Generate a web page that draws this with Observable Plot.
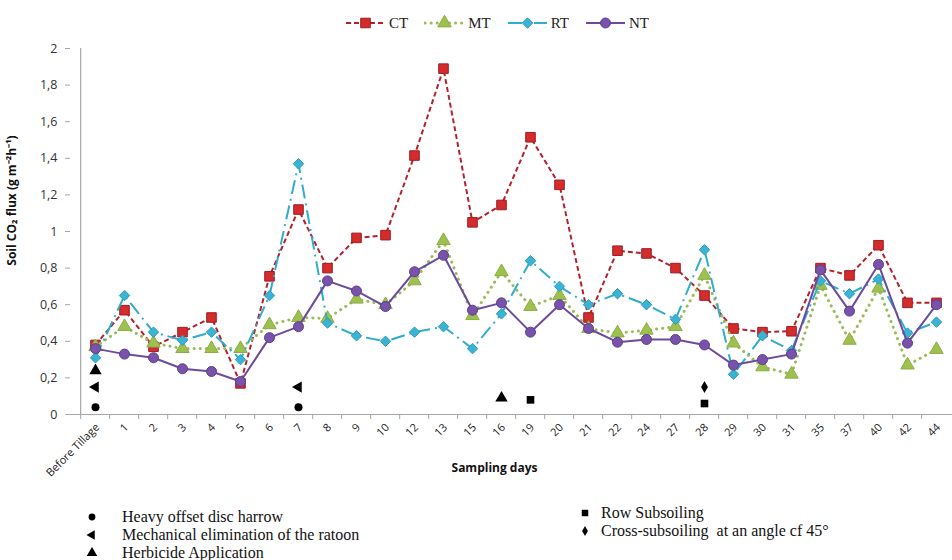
<!DOCTYPE html>
<html><head><meta charset="utf-8">
<script src="https://cdn.jsdelivr.net/npm/d3@7"></script>
<script src="https://cdn.jsdelivr.net/npm/@observablehq/plot@0.6"></script>
<style>
  html,body{margin:0;padding:0;background:#fff;}
  body{width:952px;height:560px;overflow:hidden;position:relative;}
  #top{height:40px;display:flex;align-items:center;gap:16px;padding-left:345px;box-sizing:border-box;
       font-family:"Liberation Serif","Times New Roman",serif;font-size:15px;color:#222;padding-top:6px;}
  #top .item{display:flex;align-items:center;gap:3px;}
  #chart svg{display:block;}
  #bottom{position:absolute;top:501px;left:0;width:952px;font-family:"Liberation Serif","Times New Roman",serif;
          font-size:16px;color:#111;}
  #bottom .row{position:absolute;display:flex;align-items:center;white-space:pre;line-height:17px;height:17px;}
</style></head>
<body>
<div id="top"></div>
<div id="chart"></div>
<div id="bottom"></div>
<script>
// ---------------- data ----------------
const days = ["Before Tillage","1","2","3","4","5","6","7","8","9","10","12","13","15","16","19","20","21","22","24","27","28","29","30","31","35","37","40","42","44"];
const seriesNames = ["CT","MT","RT","NT"];
const ct = [0.38,0.57,0.37,0.45,0.53,0.17,0.755,1.12,0.80,0.965,0.98,1.415,1.89,1.05,1.145,1.515,1.255,0.53,0.895,0.88,0.80,0.65,0.47,0.45,0.455,0.80,0.76,0.925,0.61,0.61];
const mt = [0.37,0.48,0.39,0.36,0.36,0.36,0.49,0.53,0.525,0.63,0.60,0.73,0.95,0.54,0.78,0.59,0.65,0.47,0.445,0.46,0.48,0.76,0.39,0.26,0.22,0.705,0.405,0.69,0.27,0.355];
const rt = [0.31,0.65,0.45,0.405,0.45,0.30,0.65,1.37,0.50,0.43,0.40,0.45,0.48,0.36,0.55,0.84,0.70,0.60,0.66,0.60,0.52,0.90,0.22,0.43,0.35,0.73,0.66,0.74,0.445,0.505];
const nt = [0.36,0.33,0.31,0.25,0.235,0.18,0.42,0.48,0.73,0.675,0.59,0.78,0.87,0.57,0.61,0.45,0.60,0.47,0.395,0.41,0.41,0.38,0.27,0.30,0.33,0.79,0.565,0.82,0.39,0.60];
const yTicks = [0,0.2,0.4,0.6,0.8,1,1.2,1.4,1.6,1.8,2];
const yLabel = "Soil CO\u2082 flux (g m\u207B\u00B2h\u207B\u00B9)";
const xLabel = "Sampling days";
// tillage operations (event markers)
const eventDays   = ["Before Tillage","Before Tillage","Before Tillage","7","7","16","19","28","28"];
const eventValues = [0.04,0.15,0.24,0.04,0.15,0.09,0.08,0.15,0.06];
const eventKinds  = ["harrow","ratoon","herbicide","harrow","ratoon","herbicide","row","cross","row"];
const eventNames  = {
  harrow: "Heavy offset disc harrow",
  ratoon: "Mechanical elimination of the ratoon",
  herbicide: "Herbicide Application",
  row: "Row Subsoiling",
  cross: "Cross-subsoiling  at an angle cf 45\u00B0"
};

// ---------------- styles ----------------
const styles = {
  CT: {values: ct, stroke: "#B3222C", fill: "#D42B2B", mstroke: "#9E1E26", dash: "5,3", cap: "butt", width: 2, symbol: "square", r: 5.4},
  MT: {values: mt, stroke: "#9BBB59", fill: "#9DC04F", mstroke: "#8CAE46", dash: "0.1,6", cap: "round", width: 3, symbol: "triangle", r: 5},
  RT: {values: rt, stroke: "#2FADCC", fill: "#3BB4D4", mstroke: "#2A9EBE", dash: "14,5,2,5", cap: "butt", width: 2, symbol: "diamond2", r: 4.7},
  NT: {values: nt, stroke: "#6C4B9E", fill: "#7953AB", mstroke: "#5C3F8A", dash: null, cap: "butt", width: 2, symbol: "circle", r: 5}
};
const eventStyle = {
  harrow: {symbol: "circle", r: 4, rotate: 0},
  ratoon: {symbol: "triangle", r: 4.2, rotate: -90},
  herbicide: {symbol: "triangle", r: 4.6, rotate: 0},
  row: {symbol: "square", r: 4.3, rotate: 0},
  cross: {symbol: "diamond", r: 3.6, rotate: 0}
};

const xStart = 70, xEnd = 961;
const half = (xEnd - xStart) / days.length / 2;
const fmt = d => String(+(+d).toFixed(1)).replace(".", ",");

const seriesMarks = seriesNames.flatMap(name => {
  const s = styles[name];
  const rows = days.map((d, i) => ({day: d, v: s.values[i]}));
  return [
    Plot.line(rows, {x: "day", y: "v", stroke: s.stroke, strokeWidth: s.width, strokeDasharray: s.dash, strokeLinecap: s.cap}),
    Plot.dot(rows, {x: "day", y: "v", symbol: s.symbol, r: s.r, fill: s.fill, stroke: s.mstroke, strokeWidth: 1})
  ];
});
const events = eventDays.map((d, i) => ({day: d, v: eventValues[i], kind: eventKinds[i]}));
const eventMarks = Object.keys(eventStyle).map(k => {
  const e = eventStyle[k];
  return Plot.dot(events.filter(d => d.kind === k), {x: "day", y: "v", symbol: e.symbol, r: e.r, rotate: e.rotate, fill: "black", stroke: "none"});
});

const chart = Plot.plot({
  width: 952, height: 460,
  marginTop: 8, marginBottom: 86, marginLeft: xStart, marginRight: 0,
  style: {fontFamily: "'Open Sans', sans-serif", background: "white"},
  x: {type: "point", domain: days, range: [xStart, xEnd], padding: 0.5, axis: null},
  y: {domain: [0, 2], axis: null},
  marks: [
    Plot.ruleY([0], {stroke: "#a6a6a6", strokeWidth: 1.2}),
    Plot.ruleX([days[0]], {y1: 0, y2: 2, dx: -half, stroke: "#a6a6a6", strokeWidth: 1.2}),
    Plot.axisY({ticks: yTicks, tickSize: 5, tickPadding: 8, tickFormat: fmt, stroke: "#a6a6a6", fill: "#333", fontSize: 12.5, label: null}),
    Plot.axisX({ticks: days, tickSize: 5, tickFormat: () => "", dx: -half, stroke: "#a6a6a6", label: null}),
    Plot.axisX({ticks: days, tickSize: 0, tickPadding: 11, tickRotate: -45, fontSize: 11, fill: "#222", label: null, dx: 2}),
    Plot.text([yLabel], {frameAnchor: "left", dx: -58, dy: -31, rotate: -90, textAnchor: "middle", lineAnchor: "middle", fontWeight: "bold", fontSize: 12, fill: "#111"}),
    Plot.text([xLabel], {frameAnchor: "bottom", dx: -17, dy: 54, textAnchor: "middle", lineAnchor: "middle", fontWeight: "bold", fontSize: 12, fill: "#111"}),
    ...seriesMarks,
    ...eventMarks
  ]
});
document.getElementById("chart").append(chart);

// ---------------- top legend ----------------
const symbolFor = n => ({square: d3.symbolSquare, triangle: d3.symbolTriangle, diamond2: d3.symbolDiamond2, circle: d3.symbolCircle, diamond: d3.symbolDiamond})[n];
const topLegend = d3.select("#top");
seriesNames.forEach(name => {
  const s = styles[name];
  const item = topLegend.append("div").attr("class", "item");
  const svg = item.append("svg").attr("width", 41).attr("height", 16);
  svg.append("line").attr("x1", 1).attr("x2", 40).attr("y1", 8).attr("y2", 8)
    .attr("stroke", s.stroke).attr("stroke-width", s.width)
    .attr("stroke-dasharray", s.dash).attr("stroke-linecap", s.cap);
  if (s.symbol === "circle") {
    svg.append("circle").attr("cx", 20.5).attr("cy", 8).attr("r", s.r).attr("fill", s.fill).attr("stroke", s.mstroke);
  } else {
    svg.append("path").attr("transform", "translate(20.5,8)")
      .attr("d", d3.symbol(symbolFor(s.symbol), Math.PI * s.r * s.r)())
      .attr("fill", s.fill).attr("stroke", s.mstroke);
  }
  item.append("span").text(name);
});

// ---------------- bottom legend ----------------
const bottomLegend = d3.select("#bottom");
const legendRows = [
  {kind: "harrow", left: 86, top: 7, gap: 24},
  {kind: "ratoon", left: 86, top: 25, gap: 24},
  {kind: "herbicide", left: 86, top: 43, gap: 24},
  {kind: "row", left: 579, top: 3, gap: 10},
  {kind: "cross", left: 579, top: 21, gap: 10}
];
legendRows.forEach(r => {
  const e = eventStyle[r.kind];
  const row = bottomLegend.append("div").attr("class", "row").style("left", r.left + "px").style("top", r.top + "px");
  const svg = row.append("svg").attr("width", 12).attr("height", 12).style("margin-right", r.gap + "px");
  const sc = 0.85;
  svg.append("path").attr("transform", `translate(6,6) rotate(${e.rotate})`)
    .attr("d", d3.symbol(symbolFor(e.symbol), Math.PI * (e.r * sc) ** 2)()).attr("fill", "black");
  row.append("span").text(eventNames[r.kind]);
});
</script>
</body></html>
